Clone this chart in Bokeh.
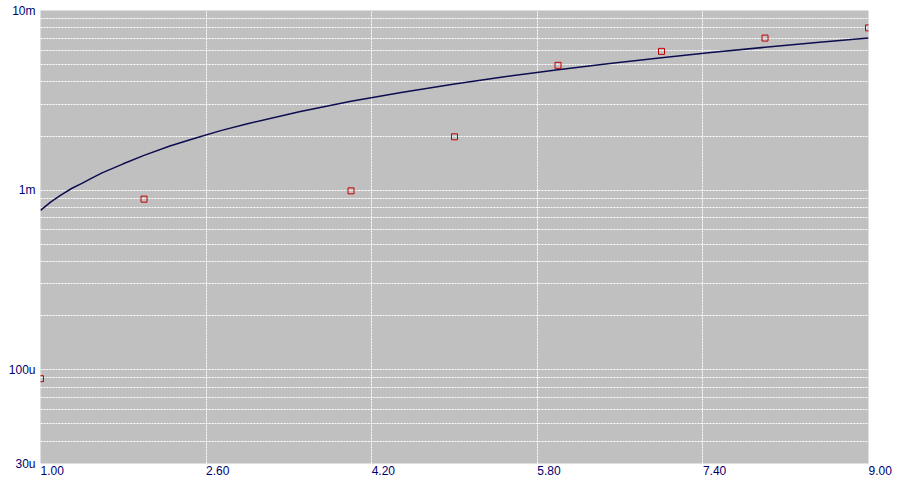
from bokeh.plotting import figure
from bokeh.models import Range1d, FixedTicker, Grid, LinearAxis, LogAxis
from bokeh.embed import file_html
from bokeh.resources import INLINE

# ---- data ----
x_ticks = [1.0, 2.6, 4.2, 5.8, 7.4, 9.0]
x_tick_labels = ["1.00", "2.60", "4.20", "5.80", "7.40", "9.00"]
y_ticks = [30e-6, 100e-6, 1e-3, 10e-3]
y_tick_labels = ["30u", "100u", "1m", "10m"]
y_grid = [30e-6, 40e-6, 50e-6, 60e-6, 70e-6, 80e-6, 90e-6,
          100e-6, 200e-6, 300e-6, 400e-6, 500e-6, 600e-6, 700e-6, 800e-6, 900e-6,
          1e-3, 2e-3, 3e-3, 4e-3, 5e-3, 6e-3, 7e-3, 8e-3, 9e-3]

pts_x = [1, 2, 4, 5, 6, 7, 8, 9]
pts_y = [89e-6, 0.89e-3, 0.99e-3, 1.98e-3, 4.95e-3, 5.92e-3, 7.02e-3, 8.0e-3]

fit_x = [1.0, 1.1, 1.2, 1.3, 1.4, 1.5, 1.6, 1.8, 2.0, 2.25, 2.5, 2.75, 3.0, 3.5, 4.0, 4.5,
         5.0, 5.5, 6.0, 6.5, 7.0, 7.5, 8.0, 8.5, 9.0]
fit_y = [0.77e-3, 0.86e-3, 0.94e-3, 1.02e-3, 1.09e-3, 1.17e-3, 1.25e-3, 1.40e-3, 1.56e-3,
         1.76e-3, 1.95e-3, 2.15e-3, 2.34e-3, 2.73e-3, 3.12e-3, 3.51e-3,
         3.90e-3, 4.29e-3, 4.68e-3, 5.07e-3, 5.46e-3, 5.85e-3, 6.24e-3, 6.63e-3, 7.02e-3]

x_start, x_end = 1.0, 9.0
y_start, y_end = 30e-6, 10e-3

FONT = "Liberation Sans"
TXT = "#000070"

p = figure(width=903, height=484, output_backend="svg", toolbar_location=None,
           x_range=Range1d(x_start, x_end), y_range=Range1d(y_start, y_end),
           y_axis_type="log", x_axis_location=None, y_axis_location=None,
           min_border_left=40, min_border_right=35, min_border_top=10, min_border_bottom=21)
p.background_fill_color = "#c0c0c0"
p.border_fill_color = "white"
p.outline_line_color = None
for g in p.grid:
    g.visible = False

yaxis = LogAxis(ticker=FixedTicker(ticks=y_ticks, minor_ticks=[]),
                major_label_overrides={t: s for t, s in zip(y_ticks, y_tick_labels)})
xaxis = LinearAxis(ticker=FixedTicker(ticks=x_ticks, minor_ticks=[]),
                   major_label_overrides={t: s for t, s in zip(x_ticks, x_tick_labels)})
for ax in (xaxis, yaxis):
    ax.axis_line_color = None
    ax.major_tick_line_color = None
    ax.minor_tick_line_color = None
    ax.major_tick_out = 0
    ax.major_tick_in = 0
    ax.minor_tick_out = 0
    ax.major_label_text_font = FONT
    ax.major_label_text_font_size = "12px"
    ax.major_label_text_color = TXT
yaxis.major_label_standoff = 5
xaxis.major_label_standoff = 7
xaxis.major_label_orientation = -0.0001   # near-horizontal, labels start at their gridline
p.add_layout(yaxis, "left")
p.add_layout(xaxis, "below")

xg = Grid(dimension=0, ticker=FixedTicker(ticks=x_ticks), grid_line_color="white",
          grid_line_dash="2 1", grid_line_width=1)
yg = Grid(dimension=1, ticker=FixedTicker(ticks=y_grid), grid_line_color="white",
          grid_line_dash="2 1", grid_line_width=1)
p.add_layout(xg, "center")
p.add_layout(yg, "center")

p.line(fit_x, fit_y, line_color="#0c0c50", line_width=1.5)
p.scatter(pts_x, pts_y, marker="square", size=6, line_color="#c00000", line_width=1,
          fill_color=None)

open("out.html", "w").write(file_html(p, INLINE))
